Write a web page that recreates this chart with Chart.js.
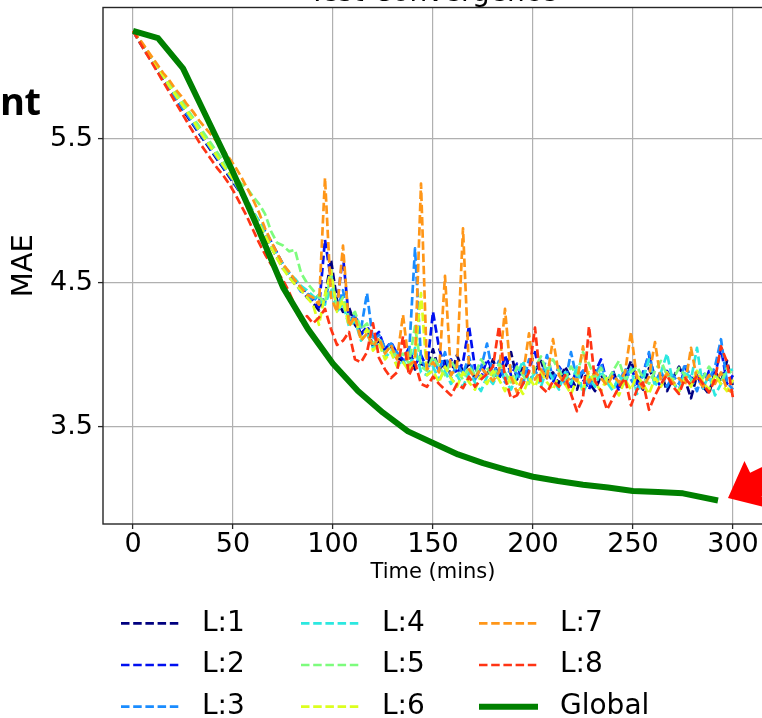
<!DOCTYPE html>
<html>
<head>
<meta charset="utf-8">
<script src="https://cdn.jsdelivr.net/npm/chart.js@4.4.1/dist/chart.umd.min.js"></script>
<style>
  html, body { margin: 0; padding: 0; width: 762px; height: 718px; overflow: hidden; background: #fff; }
  #plot { position: absolute; left: 0; top: -30px; }
  #note { position: absolute; left: 0; top: 74px; font: bold 38px "Open Sans", sans-serif; color: #000; letter-spacing: -0.5px; }
  #pointer { position: absolute; left: 0; top: 0; }
</style>
</head>
<body>
<canvas id="plot" width="800" height="748"></canvas>
<div id="note">nt</div>
<svg id="pointer" width="762" height="718">
  <g transform="translate(728,498) rotate(-26)">
    <polygon points="0,0 31,-26 31,-13 200,-13 200,13 31,13 31,26" fill="#ff0000"/>
  </g>
</svg>
<script>
// Sampling times of the local models (minutes)
const times = [0,3,6,9,12,15,18,21,24,27,30,33,36,39,42,45,48,51,54,57,
  60,63,66,69,72,75,78,81,84,87,90,93,96,99,102,105,108,111,114,117,
  120,123,126,129,132,135,138,141,144,147,150,153,156,159,162,165,168,171,174,177,
  180,183,186,189,192,195,198,201,204,207,210,213,216,219,222,225,228,231,234,237,
  240,243,246,249,252,255,258,261,264,267,270,273,276,279,282,285,288,291,294,297,300];

// Test MAE of each local model
const l1 = [6.25,6.18,6.11,6.05,5.98,5.91,5.85,5.79,5.72,5.66,
  5.60,5.54,5.48,5.42,5.36,5.30,5.24,5.18,5.12,5.04,
  4.97,4.90,4.82,4.75,4.68,4.60,4.56,4.49,4.47,4.40,
  4.36,4.31,4.40,4.66,4.38,4.30,4.33,4.21,4.15,4.19,
  4.06,4.10,4.02,4.06,3.98,3.96,4.00,3.90,3.94,3.92,
  4.04,3.89,3.96,3.86,4.00,3.88,3.94,3.83,3.92,3.86,
  3.97,3.84,3.91,4.02,3.83,3.92,3.81,3.89,3.96,3.84,
  3.88,3.80,3.92,3.84,3.76,3.89,3.81,3.75,3.86,3.80,
  3.89,3.78,3.84,3.96,3.83,3.76,3.91,3.81,3.88,3.75,
  3.84,3.92,3.83,3.70,3.86,3.78,3.73,3.89,3.81,3.96,
  3.78];
const l2 = [6.25,6.19,6.12,6.06,5.99,5.93,5.86,5.80,5.74,5.67,
  5.61,5.55,5.49,5.43,5.37,5.31,5.25,5.19,5.13,5.06,
  4.99,4.93,4.86,4.79,4.71,4.63,4.57,4.52,4.46,4.44,
  4.38,4.33,4.80,4.52,4.35,4.69,4.24,4.27,4.14,4.20,
  4.12,4.16,4.04,4.09,4.01,3.97,4.05,3.93,4.00,3.91,
  4.30,4.05,3.91,3.97,3.87,3.95,4.20,3.91,3.84,3.97,
  3.89,3.83,4.00,3.86,3.94,3.80,3.91,4.02,3.85,3.89,
  3.81,3.92,3.86,3.78,3.91,3.83,3.76,3.88,3.97,3.81,
  3.86,3.75,3.83,3.92,3.80,3.88,4.00,3.84,3.78,3.89,
  3.81,3.75,3.92,3.83,3.86,3.77,3.89,3.86,4.05,3.80,
  3.86];
const l3 = [6.25,6.18,6.12,6.05,5.99,5.92,5.86,5.79,5.73,5.67,
  5.61,5.55,5.49,5.43,5.37,5.31,5.25,5.19,5.12,5.05,
  4.98,4.91,4.83,4.76,4.68,4.62,4.54,4.50,4.44,4.43,
  4.37,4.42,4.36,4.58,4.31,4.45,4.22,4.28,4.18,4.43,
  4.10,4.14,4.05,4.08,4.02,3.95,4.00,4.74,3.97,3.90,
  3.97,3.89,4.02,3.84,3.94,3.87,3.99,3.83,3.91,4.08,
  3.86,3.96,3.81,3.92,3.87,3.80,3.97,3.89,3.83,4.00,
  3.84,3.91,3.80,4.02,3.83,3.89,3.78,3.86,3.94,3.81,
  3.88,3.80,3.91,3.83,3.76,3.86,4.02,3.81,3.89,3.78,
  3.86,3.80,3.94,3.84,3.75,3.88,3.83,3.92,4.11,3.81,
  3.76];
const l4 = [6.25,6.19,6.13,6.06,6.00,5.94,5.88,5.81,5.75,5.69,
  5.63,5.57,5.51,5.45,5.39,5.33,5.27,5.21,5.14,5.08,
  5.00,4.93,4.85,4.77,4.70,4.63,4.57,4.53,4.48,4.45,
  4.41,4.38,4.35,4.46,4.30,4.36,4.20,4.24,4.10,4.15,
  4.05,4.09,3.98,4.03,3.93,3.96,3.90,4.05,3.88,3.86,
  3.92,3.83,3.89,3.80,3.86,3.78,3.88,3.81,3.75,3.85,
  3.80,3.89,3.83,3.76,3.86,3.96,3.81,3.88,3.78,3.91,
  3.83,3.76,3.88,3.80,3.92,3.73,3.85,3.78,3.89,3.81,
  3.75,3.86,3.80,3.91,3.73,3.83,3.97,3.78,3.88,4.01,
  3.81,3.75,3.89,3.83,4.05,3.77,3.86,3.72,3.80,3.89,
  3.90];
const l5 = [6.25,6.19,6.13,6.07,6.01,5.95,5.89,5.83,5.77,5.71,
  5.65,5.59,5.53,5.47,5.41,5.35,5.30,5.25,5.19,5.16,
  5.10,5.05,4.98,4.86,4.78,4.76,4.72,4.73,4.57,4.50,
  4.45,4.40,4.37,4.55,4.33,4.40,4.25,4.30,4.18,4.22,
  4.08,4.12,4.02,4.06,3.98,4.01,3.94,4.20,3.92,3.89,
  3.99,3.92,3.86,3.96,3.89,3.83,3.92,3.86,3.97,3.91,
  3.84,3.94,3.88,3.81,3.92,3.86,3.80,3.91,3.99,3.88,
  3.97,3.89,3.83,3.92,3.86,4.02,3.94,3.84,3.91,3.81,
  3.89,3.96,3.83,3.88,3.92,3.84,3.80,3.89,3.96,3.86,
  3.83,3.91,3.86,3.80,3.89,3.84,3.92,3.86,3.81,3.91,
  3.86];
const l6 = [6.25,6.19,6.12,6.06,6.00,5.94,5.87,5.81,5.75,5.69,
  5.63,5.56,5.50,5.44,5.38,5.32,5.26,5.20,5.13,5.06,
  4.99,4.91,4.83,4.75,4.67,4.60,4.54,4.49,4.45,4.40,
  4.35,4.21,4.42,4.59,4.30,4.38,4.20,4.26,4.12,4.18,
  4.03,4.08,3.97,4.02,3.92,3.95,3.89,3.99,4.43,3.86,
  3.89,3.81,3.92,3.84,3.78,3.88,3.81,3.76,3.86,3.80,
  3.89,3.83,3.75,3.86,3.80,3.73,3.84,3.78,3.88,3.81,
  3.76,3.86,3.80,3.73,3.83,3.76,3.88,3.81,3.75,3.84,
  3.78,3.72,3.83,3.76,3.86,3.80,3.73,3.84,3.78,3.88,
  3.81,3.75,3.84,3.78,3.89,3.81,3.76,3.86,3.80,3.75,
  3.83];
const l7 = [6.25,6.20,6.14,6.08,6.02,5.96,5.91,5.85,5.80,5.74,
  5.69,5.63,5.58,5.53,5.48,5.43,5.37,5.31,5.24,5.16,
  5.08,4.99,4.88,4.79,4.71,4.63,4.58,4.52,4.47,4.42,
  4.40,4.35,5.23,4.40,4.30,4.76,4.20,4.27,4.10,4.15,
  4.06,4.12,4.01,4.07,3.97,4.28,3.93,3.96,5.19,3.90,
  3.95,3.88,4.55,3.86,3.92,4.88,3.90,3.84,3.91,3.87,
  3.82,3.88,4.32,3.85,3.74,3.86,4.15,3.83,3.90,3.84,
  4.11,3.86,3.80,3.85,3.82,4.06,3.81,3.88,3.84,3.79,
  3.86,3.81,3.88,4.16,3.83,3.77,3.85,4.09,3.82,3.87,
  3.80,3.84,3.79,4.05,3.83,3.78,3.86,3.80,3.88,3.76,
  3.74];
const l8 = [6.25,6.18,6.11,6.04,5.97,5.90,5.83,5.76,5.69,5.62,
  5.55,5.48,5.42,5.36,5.30,5.25,5.19,5.12,5.04,4.96,
  4.87,4.78,4.70,4.63,4.58,4.52,4.44,4.34,4.24,4.27,
  4.22,4.26,4.32,4.18,4.07,4.10,4.16,3.97,3.95,4.02,
  4.22,3.98,3.90,3.84,3.88,4.13,3.86,3.95,3.80,3.78,
  3.85,3.80,3.76,3.72,3.80,3.77,3.85,3.78,3.83,3.87,
  3.92,4.20,3.84,3.70,3.72,3.80,3.88,4.19,3.78,3.74,
  3.82,3.78,3.86,3.73,3.61,3.70,4.20,3.82,3.75,3.62,
  3.70,3.78,3.84,3.65,3.76,3.81,3.62,3.72,3.80,3.86,
  3.78,3.73,3.84,3.79,3.86,3.80,3.74,3.83,4.06,3.95,
  3.70];

// Aggregated (global) model
const globalTimes = [0,12.5,25,37.5,50,62.5,75,87.5,100,112.5,125,137.5,150,162.5,175,187.5,200,212.5,225,237.5,250,262.5,275,292.5];
const globalMae = [6.25,6.20,5.99,5.63,5.27,4.88,4.47,4.18,3.94,3.75,3.60,3.47,3.39,3.31,3.25,3.20,3.155,3.125,3.10,3.08,3.056,3.05,3.04,2.99];

const seriesNames = ['L:1','L:2','L:3','L:4','L:5','L:6','L:7','L:8'];
const seriesColors = ['#00007f','#0010f0','#1a8cff','#2ce8e0','#7dfc7d','#dcff1e','#ff9618','#ff3414'];
const xTicks = [0,50,100,150,200,250,300];
const yTicks = [3.5,4.5,5.5];

const localSeries = [l1,l2,l3,l4,l5,l6,l7,l8];
const datasets = localSeries.map((vals, k) => ({
  label: seriesNames[k],
  data: vals.map((v, i) => ({ x: times[i], y: v })),
  borderColor: seriesColors[k],
  borderWidth: 2.7,
  borderDash: [8.5, 3.7],
  borderJoinStyle: 'round',
  pointRadius: 0,
  fill: false,
  tension: 0,
  order: 8 - k
}));
datasets.push({
  label: 'Global',
  data: globalTimes.map((t, i) => ({ x: t, y: globalMae[i] })),
  borderColor: '#008000',
  borderWidth: 6,
  borderJoinStyle: 'round',
  pointRadius: 0,
  fill: false,
  tension: 0,
  order: 0
});

const FONT = '"DejaVu Sans", sans-serif';

// Axes frame, title text and the three-column legend
const decorations = {
  id: 'decorations',
  afterDatasetsDraw(chart) {
    const { ctx, chartArea: a } = chart;
    ctx.save();
    ctx.strokeStyle = '#262626';
    ctx.lineWidth = 1.4;
    ctx.strokeRect(a.left, a.top, a.right - a.left, a.bottom - a.top);
    ctx.restore();
  },
  afterDraw(chart) {
    const { ctx, chartArea: a } = chart;
    ctx.save();
    ctx.fillStyle = '#000';
    ctx.font = '28px ' + FONT;
    ctx.textAlign = 'center';
    ctx.textBaseline = 'alphabetic';
    ctx.fillText('Test Convergence', (a.left + a.right) / 2, 31);

    const colX = [121, 301, 479];
    const rowY = [653.3, 695, 736.7];
    const sets = chart.data.datasets;
    sets.forEach((ds, k) => {
      const col = Math.floor(k / 3), row = k % 3;
      const x0 = colX[col], y = rowY[row];
      ctx.beginPath();
      ctx.strokeStyle = ds.borderColor;
      ctx.lineWidth = ds.borderWidth;
      ctx.setLineDash(ds.borderDash || []);
      ctx.moveTo(x0, y);
      ctx.lineTo(x0 + 59, y);
      ctx.stroke();
      ctx.setLineDash([]);
      ctx.fillStyle = '#000';
      ctx.font = '28px ' + FONT;
      ctx.textAlign = 'left';
      ctx.textBaseline = 'middle';
      ctx.fillText(ds.label, x0 + 81, y);
    });
    ctx.restore();
  }
};

new Chart(document.getElementById('plot'), {
  type: 'line',
  data: { datasets },
  plugins: [decorations],
  options: {
    responsive: false,
    animation: false,
    devicePixelRatio: 1,
    layout: { padding: { left: 0, right: 37, top: 37.5, bottom: 134.5 } },
    plugins: { legend: { display: false }, tooltip: { enabled: false }, title: { display: false } },
    scales: {
      x: {
        type: 'linear',
        min: -15,
        max: 315,
        afterBuildTicks: s => { s.ticks = xTicks.map(v => ({ value: v })); },
        afterFit: s => { s.height = 59.5; },
        ticks: {
          autoSkip: false, maxRotation: 0, color: '#000', padding: 2,
          font: { family: FONT, size: 27, lineHeight: 1 },
          callback: v => String(v)
        },
        grid: { color: '#b0b0b0', lineWidth: 1.2, tickLength: 5, tickColor: '#262626', tickWidth: 1.3 },
        border: { display: false },
        title: { display: true, text: 'Time (mins)', color: '#000', font: { family: FONT, size: 21, lineHeight: 1 }, padding: { top: 0, bottom: 0 } }
      },
      y: {
        type: 'linear',
        min: 2.827,
        max: 6.413,
        afterBuildTicks: s => { s.ticks = yTicks.map(v => ({ value: v })); },
        afterFit: s => { s.width = 103; },
        ticks: {
          color: '#000', padding: 5,
          font: { family: FONT, size: 27, lineHeight: 1 },
          callback: v => v.toFixed(1)
        },
        grid: { color: '#b0b0b0', lineWidth: 1.2, tickLength: 5, tickColor: '#262626', tickWidth: 1.3 },
        border: { display: false },
        title: { display: true, text: 'MAE', color: '#000', font: { family: FONT, size: 29, lineHeight: 1 }, padding: { top: 9.5, bottom: 0 } }
      }
    }
  }
});
</script>
</body>
</html>
